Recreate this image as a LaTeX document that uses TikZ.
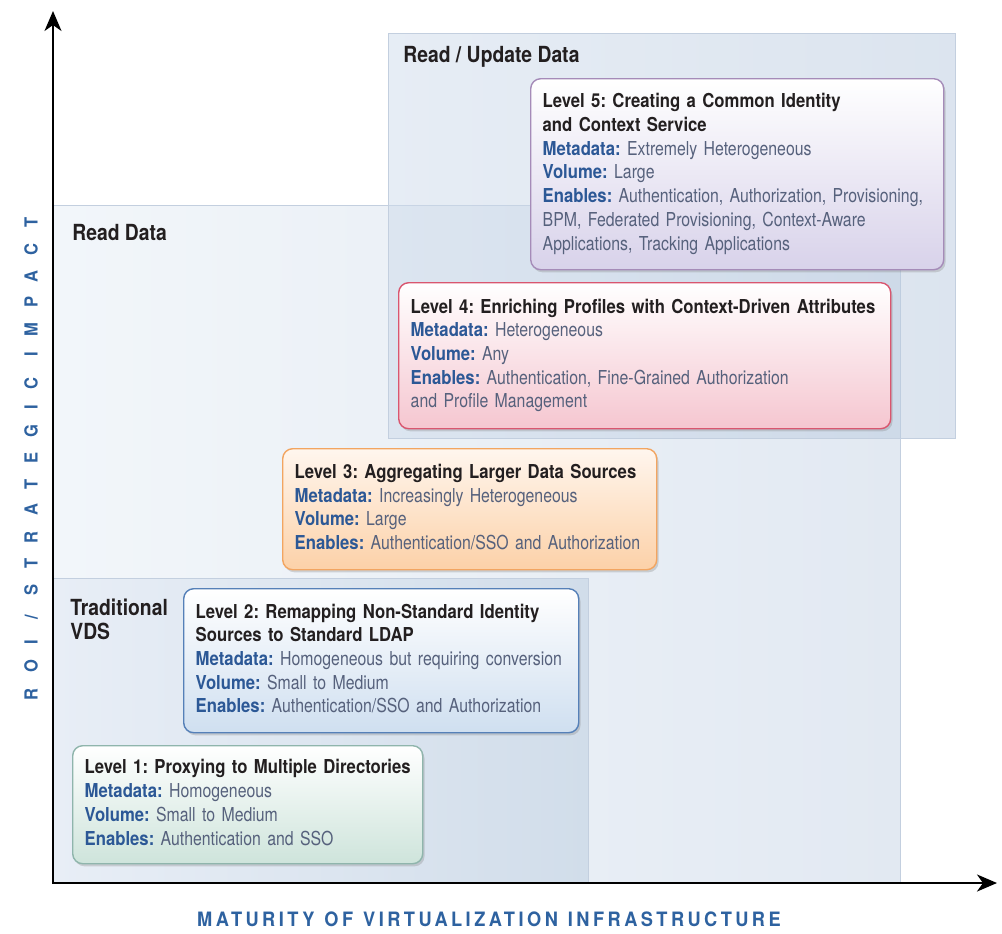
\documentclass[tikz,border=0pt]{standalone}
\usepackage{fontspec}
\setmainfont{TeX Gyre Heros}[UprightFeatures={FakeStretch=0.825},BoldFeatures={FakeStretch=0.87}]
\newfontfamily\xaxisfont{TeX Gyre Heros}[FakeStretch=0.92,LetterSpace=17.5]
\newfontfamily\yaxisfont{TeX Gyre Heros}[FakeStretch=0.92,LetterSpace=86]
\usetikzlibrary{arrows.meta,shadows}

\definecolor{titleblack}{HTML}{231F20}
\definecolor{fieldblue}{HTML}{2C5896}
\definecolor{valuegray}{HTML}{56617C}
\definecolor{axisblue}{HTML}{2E62A0}
\definecolor{regionedge}{HTML}{C3CFDF}
\definecolor{readL}{HTML}{F2F6FA}
\definecolor{readR}{HTML}{E2E9F2}
\definecolor{updL}{HTML}{CEDBEB}
\definecolor{updR}{HTML}{B9CADF}
\definecolor{vdsL}{HTML}{E8EEF6}
\definecolor{vdsR}{HTML}{D1DDEA}
\definecolor{oneEdge}{HTML}{8FB5AC}
\definecolor{oneFill}{HTML}{CEE4DB}
\definecolor{twoEdge}{HTML}{5580B8}
\definecolor{twoFill}{HTML}{CFDFF0}
\definecolor{threeEdge}{HTML}{F2A561}
\definecolor{threeFill}{HTML}{FCD1A8}
\definecolor{threeTop}{HTML}{FFF6EE}
\definecolor{fourEdge}{HTML}{D9566F}
\definecolor{fourFill}{HTML}{F5C6D0}
\definecolor{fiveEdge}{HTML}{A58BB8}
\definecolor{fiveFill}{HTML}{D8D2EA}

% bold blue field name followed by its value
\newcommand\fld[2]{{\bfseries\color{fieldblue}#1} #2}
\newcommand\lvltitle[1]{{\bfseries\color{titleblack}#1}}
\newcommand\lvltext[1]{\begin{tabular}{@{}l@{}}#1\end{tabular}}
% wider gap between the words of an axis title
\newcommand\wgap{\hspace{5pt}}

\tikzset{
  region/.style={draw=regionedge, line width=0.5pt},
  level/.style={rounded corners=5pt, line width=0.7pt, anchor=north west,
    inner xsep=6pt, inner ysep=0pt,
    drop shadow={shadow xshift=0.9pt, shadow yshift=-1.3pt, opacity=0.3, fill=gray},
    font=\frenchspacing\fontsize{9.6}{11.85}\selectfont, text=valuegray},
  regionlabel/.style={anchor=west, align=left, inner sep=0pt,
    font=\bfseries\fontsize{11.1}{11.6}\selectfont, text=titleblack},
  axis/.style={line width=1.3pt, line join=miter,
    {Stealth[length=10pt,width=8.5pt,inset=3pt]}-{Stealth[length=10pt,width=8.5pt,inset=3pt]}},
}

\begin{document}
\begin{tikzpicture}[x=0.5pt,y=-0.5pt]
\useasboundingbox (0,0) rectangle (1002,933);

% maturity regions
\draw[region, left color=readL, right color=readR] (53,205) rectangle (900,883);
\draw[region, left color=updL, right color=updR, fill opacity=0.5] (388,33) rectangle (955,438);
\draw[region, left color=vdsL, right color=vdsR] (53,578) rectangle (588,883);

\node[regionlabel] (rupd) at (403,57) {Read / Update Data};
\node[regionlabel] (rdata) at (72,233) {Read Data};
\node[regionlabel, anchor=north west] (tvds) at (70,599) {Traditional\\VDS};

% axes
\coordinate (origin) at (53,883);
\coordinate (ytip) at (53,11);
\coordinate (xtip) at (997,883);
\draw[axis] (ytip) -- (origin) -- (xtip);

\node[font=\yaxisfont\bfseries\fontsize{9}{10}\selectfont, text=axisblue, rotate=90] (ylab) at (31,459) {ROI / STRATEGIC IMPACT};
\node[font=\xaxisfont\bfseries\fontsize{9.9}{11}\selectfont, text=axisblue] (xlab) at (489,919)
  {MATURITY\wgap OF\wgap VIRTUALIZATION\wgap INFRASTRUCTURE};

% maturity levels
\node[level, draw=oneEdge, top color=white, bottom color=oneFill,
      text width=163pt, minimum height=59pt] (lvl1) at (72,745)
 {\lvltext{\lvltitle{Level 1: Proxying to Multiple Directories}\\
  \fld{Metadata:}{Homogeneous}\\
  \fld{Volume:}{Small to Medium}\\
  \fld{Enables:}{Authentication and SSO}}};

\node[level, draw=twoEdge, top color=white, bottom color=twoFill,
      text width=185.5pt, minimum height=72pt] (lvl2) at (183,588)
 {\lvltext{\lvltitle{Level 2: Remapping Non-Standard Identity}\\
  \lvltitle{Sources to Standard LDAP}\\
  \fld{Metadata:}{Homogeneous but requiring conversion}\\
  \fld{Volume:}{Small to Medium}\\
  \fld{Enables:}{Authentication/SSO and Authorization}}};

\node[level, draw=threeEdge, top color=threeTop, bottom color=threeFill,
      text width=175pt, minimum height=60.5pt] (lvl3) at (282,448)
 {\lvltext{\lvltitle{Level 3: Aggregating Larger Data Sources}\\
  \fld{Metadata:}{Increasingly Heterogeneous}\\
  \fld{Volume:}{Large}\\
  \fld{Enables:}{Authentication/SSO and Authorization}}};

\node[level, draw=fourEdge, top color=white, bottom color=fourFill,
      text width=234pt, minimum height=73pt] (lvl4) at (398,282)
 {\lvltext{\lvltitle{Level 4: Enriching Profiles with Context-Driven Attributes}\\
  \fld{Metadata:}{Heterogeneous}\\
  \fld{Volume:}{Any}\\
  \fld{Enables:}{Authentication, Fine-Grained Authorization}\\
  and Profile Management}};

\node[level, draw=fiveEdge, top color=white, bottom color=fiveFill,
      text width=194.5pt, minimum height=95.5pt] (lvl5) at (530,78)
 {\lvltext{\lvltitle{Level 5: Creating a Common Identity}\\
  \lvltitle{and Context Service}\\
  \fld{Metadata:}{Extremely Heterogeneous}\\
  \fld{Volume:}{Large}\\
  \fld{Enables:}{Authentication, Authorization, Provisioning,}\\
  BPM, Federated Provisioning, Context-Aware\\
  Applications, Tracking Applications}};
\end{tikzpicture}
\end{document}
